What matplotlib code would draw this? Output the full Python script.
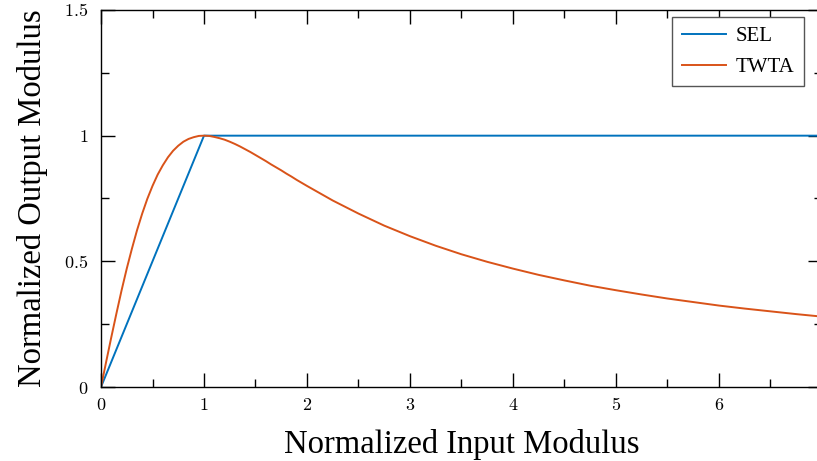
import matplotlib
matplotlib.use("agg")
import matplotlib.pyplot as plt
from matplotlib.ticker import MultipleLocator, FuncFormatter

# SEL: linear up to saturation, then flat
sel_x = [0, 1, 7]
sel_y = [0, 1, 1]

# TWTA AM/AM curve
twta_x = [0, 0.05, 0.1, 0.15, 0.2, 0.25, 0.3, 0.35, 0.4, 0.45, 0.5,
          0.55, 0.6, 0.65, 0.7, 0.75, 0.8, 0.85, 0.9, 0.95, 1.0,
          1.05, 1.1, 1.15, 1.2, 1.25, 1.3, 1.35, 1.4, 1.45, 1.5,
          1.55, 1.6, 1.65, 1.7, 1.75, 1.8, 1.85, 1.9, 1.95, 2.0,
          2.25, 2.5, 2.75, 3.0, 3.25, 3.5, 3.75, 4.0, 4.25, 4.5,
          4.75, 5.0, 5.25, 5.5, 5.75, 6.0, 6.25, 6.5, 6.75, 7.0]
twta_y = [0, 0.100, 0.198, 0.293, 0.385, 0.471, 0.550, 0.624, 0.690, 0.749, 0.800,
          0.845, 0.882, 0.914, 0.940, 0.960, 0.976, 0.987, 0.994, 0.999, 1.0,
          0.999, 0.995, 0.990, 0.984, 0.976, 0.967, 0.957, 0.946, 0.935, 0.923,
          0.911, 0.899, 0.886, 0.874, 0.862, 0.849, 0.837, 0.824, 0.812, 0.800,
          0.742, 0.690, 0.642, 0.600, 0.562, 0.528, 0.498, 0.471, 0.446, 0.424,
          0.403, 0.385, 0.368, 0.352, 0.338, 0.324, 0.312, 0.301, 0.290, 0.280]

labels = ("SEL", "TWTA")
colors = ("#0072BD", "#D95319")

plt.rcParams["mathtext.fontset"] = "cm"
plt.rcParams["font.family"] = "Liberation Serif"

fig = plt.figure(figsize=(8.17, 4.61), dpi=100)
ax = fig.add_axes([101 / 817, 74 / 461, 721 / 817, 377 / 461])

ax.plot(sel_x, sel_y, color=colors[0], lw=1.4, label=labels[0])
ax.plot(twta_x, twta_y, color=colors[1], lw=1.4, label=labels[1])

ax.set_xlim(0, 7)
ax.set_ylim(0, 1.5)
ax.xaxis.set_major_locator(MultipleLocator(1))
ax.xaxis.set_minor_locator(MultipleLocator(0.5))
ax.yaxis.set_major_locator(MultipleLocator(0.5))
ax.yaxis.set_minor_locator(MultipleLocator(0.25))
fmt = FuncFormatter(lambda v, p: "$%g$" % v)
ax.xaxis.set_major_formatter(fmt)
ax.yaxis.set_major_formatter(fmt)

ax.tick_params(which="both", direction="in", top=True, right=True, width=1, labelsize=13)
ax.tick_params(which="major", length=10)
ax.tick_params(axis="x", which="major", pad=7)
ax.tick_params(axis="y", which="major", pad=9)
ax.tick_params(which="minor", length=6)
for s in ax.spines.values():
    s.set_linewidth(1)

ax.set_xlabel("Normalized Input Modulus", fontsize=23.5, labelpad=11)
ax.set_ylabel("Normalized Output Modulus", fontsize=23.5, labelpad=12)

leg = ax.legend(loc="upper right", bbox_to_anchor=((804 - 101) / 721, 1 - 7 / 377),
                fontsize=15, fancybox=False, edgecolor="#555555", framealpha=1,
                handlelength=2.15, handletextpad=0.45, borderpad=0.45,
                labelspacing=0.55, borderaxespad=0)
leg.get_frame().set_linewidth(1)

fig.savefig("out.png", dpi=100)
